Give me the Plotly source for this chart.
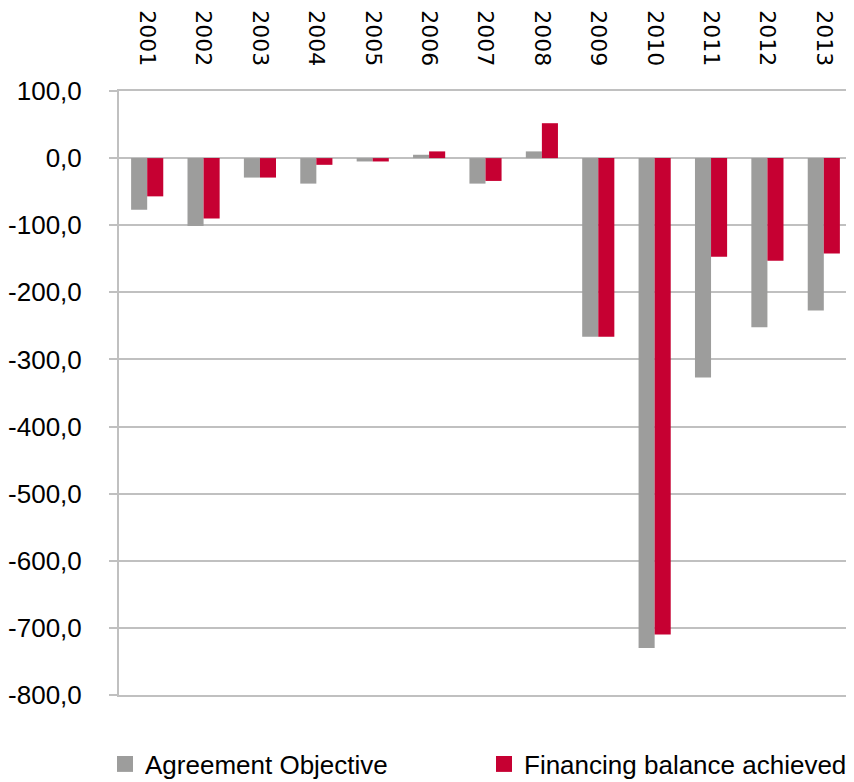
import plotly.graph_objects as go

years = ["2001", "2002", "2003", "2004", "2005", "2006", "2007",
         "2008", "2009", "2010", "2011", "2012", "2013"]
objective = [-77, -101, -29, -38, -5, 5, -38, 10, -266, -730, -327, -252, -227]
achieved = [-57, -90, -29, -10, -5, 10, -34, 52, -266, -710, -147, -153, -142]
y_ticks = [100, 0, -100, -200, -300, -400, -500, -600, -700, -800]
y_tick_labels = ["100,0", "0,0", "-100,0", "-200,0", "-300,0", "-400,0",
                 "-500,0", "-600,0", "-700,0", "-800,0"]
series_names = ["Agreement Objective", "Financing balance achieved"]

GRAY = "#9d9d9c"
RED = "#c60032"
GRID = "#c0c0c0"

# page body has an 8px margin; figure is sized so it fits the 854x782 window
W, H = 846, 774

idx = list(range(len(years)))
boundaries = [i + 0.5 for i in idx[1::2]]

fig = go.Figure()
fig.add_trace(go.Bar(x=idx, y=objective, name=series_names[0], showlegend=False,
                     marker=dict(color=GRAY, line=dict(width=0))))
fig.add_trace(go.Bar(x=idx, y=achieved, name=series_names[1], showlegend=False,
                     marker=dict(color=RED, line=dict(width=0))))
# legend-only entries with larger square symbols
fig.add_trace(go.Scatter(x=[None], y=[None], mode="markers", name=series_names[0],
                         marker=dict(symbol="square", size=16, color=GRAY),
                         legend="legend"))
fig.add_trace(go.Scatter(x=[None], y=[None], mode="markers", name=series_names[1],
                         marker=dict(symbol="square", size=16, color=RED),
                         legend="legend2"))

legend_common = dict(
    orientation="h", xref="container", yref="container",
    y=1 - 756 / H, xanchor="left", yanchor="middle",
    font=dict(size=26, color="#000000"),
    bgcolor="rgba(0,0,0,0)", itemsizing="trace",
)

fig.update_layout(
    width=W, height=H,
    margin=dict(l=111, r=2, t=83, b=87),
    paper_bgcolor="white", plot_bgcolor="white",
    barmode="group", bargap=0.43, bargroupgap=0,
    font=dict(family="Liberation Sans, Arial, sans-serif", color="#000000"),
    xaxis=dict(
        type="linear", range=[-0.5, len(years) - 0.5], automargin=False,
        side="top", tickmode="array", tickvals=idx, ticktext=years,
        tickangle=90, ticks="", ticklabelstandoff=15,
        tickfont=dict(family="DejaVu Sans, Verdana, sans-serif", size=22, color="#000000"),
        showgrid=False, zeroline=False,
        showline=True, linecolor=GRID, linewidth=2, mirror=True,
    ),
    xaxis2=dict(
        type="linear", range=[-0.5, len(years) - 0.5], overlaying="x",
        anchor="free", position=800 / 900, side="bottom", automargin=False,
        tickmode="array", tickvals=boundaries, ticks="outside", ticklen=9,
        tickwidth=2, tickcolor=GRID, showticklabels=False,
        showgrid=False, zeroline=False, showline=False,
    ),
    yaxis=dict(
        range=[-800, 100], tickmode="array", tickvals=y_ticks, ticktext=y_tick_labels,
        automargin=False,
        ticks="outside", ticklen=8, tickwidth=2, tickcolor=GRID,
        ticklabelstandoff=22,
        tickfont=dict(size=26, color="#000000"),
        showgrid=True, gridcolor=GRID, gridwidth=2,
        zeroline=True, zerolinecolor=GRID, zerolinewidth=2,
        showline=True, linecolor=GRID, linewidth=2, mirror=True,
    ),
    showlegend=True,
    legend=dict(x=97 / W, **legend_common),
    legend2=dict(x=476 / W, **legend_common),
)

fig.write_html("out.html")
